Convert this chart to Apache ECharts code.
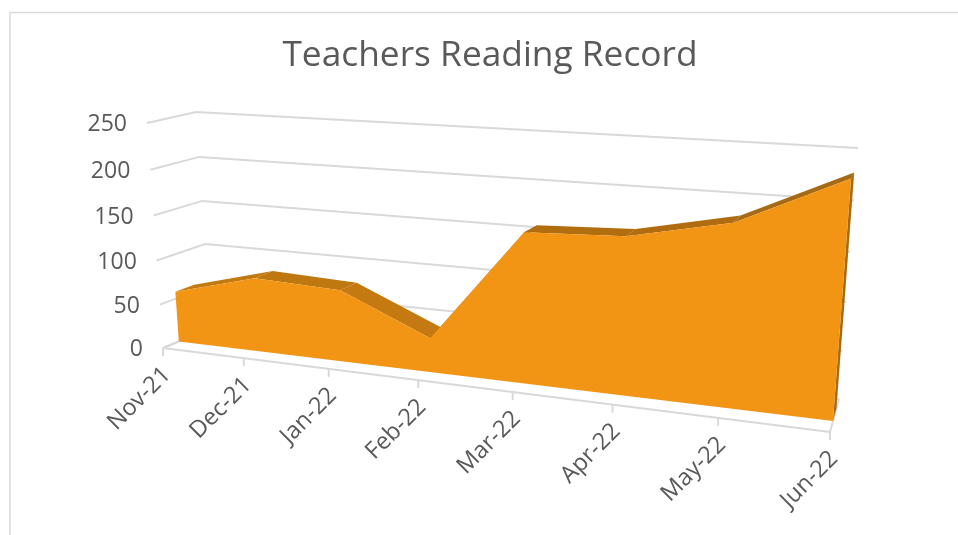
<!DOCTYPE html>
<html>
<head>
<meta charset="utf-8">
<script src="https://cdn.jsdelivr.net/npm/echarts@6/dist/echarts.min.js"></script>
<style>
    html, body { margin: 0; padding: 0; background: #fff; }
    #main { width: 958px; height: 535px; }
</style>
</head>
<body>
<div id="main"></div>
<script>
let categories = ['Nov-21', 'Dec-21', 'Jan-22', 'Feb-22', 'Mar-22', 'Apr-22', 'May-22', 'Jun-22'];
let readings = [58, 83, 79, 37, 158, 162, 183, 231];
let yTicks = [0, 50, 100, 150, 200, 250];
let bandColors = ['#c27a10', '#bf7810', '#c47a10', '#c47a10', '#b26e0e', '#b06c0e', '#a66a14'];

// box corners as seen in the picture: bottom-left, bottom-right, top-right, top-left
let frontQuad = [[163, 348], [830, 432], [850, 162], [147, 123]];
let backQuad = [[211, 328], [839, 399], [858, 148], [196, 112]];
let areaFront = 0.33, areaBack = 0.72;

function quadAt(z) {
    return frontQuad.map(function (p, k) {
        return [p[0] + (backQuad[k][0] - p[0]) * z, p[1] + (backQuad[k][1] - p[1]) * z];
    });
}

// unit square -> quad, used to get the perspective of the excel 3d chart
function warp(q, u, v) {
    let dx1 = q[1][0] - q[2][0], dx2 = q[3][0] - q[2][0], sx = q[0][0] - q[1][0] + q[2][0] - q[3][0];
    let dy1 = q[1][1] - q[2][1], dy2 = q[3][1] - q[2][1], sy = q[0][1] - q[1][1] + q[2][1] - q[3][1];
    let den = dx1 * dy2 - dx2 * dy1;
    let g = (sx * dy2 - dx2 * sy) / den, h = (dx1 * sy - sx * dy1) / den;
    let a = q[1][0] - q[0][0] + g * q[1][0], b = q[3][0] - q[0][0] + h * q[3][0];
    let d = q[1][1] - q[0][1] + g * q[1][1], e = q[3][1] - q[0][1] + h * q[3][1];
    let w = g * u + h * v + 1;
    return [(a * u + b * v + q[0][0]) / w, (d * u + e * v + q[0][1]) / w];
}

// value -> flat grid pixel (through the axes) -> perspective pixel
function project(api, params, i, value, z) {
    let p = api.coord([i, value]);
    let r = params.coordSys;
    return warp(quadAt(z), (p[0] - r.x) / r.width, (r.y + r.height - p[1]) / r.height);
}

let lineStyle = { stroke: '#d9d9d9', lineWidth: 2, fill: null };
let textColor = '#595959';
let last = categories.length - 1;

function line(points) {
    return { type: 'polyline', shape: { points: points }, style: lineStyle };
}

function renderWall(params, api) {
    let t = api.value(1);
    let label = project(api, params, 0, t, 0);
    return {
        type: 'group',
        children: [
            line([project(api, params, 0, t, 0), project(api, params, 0, t, 1), project(api, params, last, t, 1)]),
            {
                type: 'text',
                style: {
                    text: String(t), x: label[0] - 20, y: label[1] + 1.5, align: 'right', verticalAlign: 'middle',
                    fill: textColor, font: '23px "Open Sans"'
                }
            }
        ]
    };
}

function renderFloor(params, api) {
    let i = api.value(0);
    let p = project(api, params, i, 0, 0);
    let children = [
        line([p, [p[0], p[1] + 8]]),
        {
            type: 'text',
            x: p[0] + 4,
            y: p[1] + 23,
            rotation: Math.PI / 4,
            style: {
                text: categories[i], x: 0, y: 0, align: 'right', verticalAlign: 'middle',
                fill: textColor, font: '23.5px "Open Sans"'
            }
        }
    ];
    if (i === 0) {
        children.push(line([project(api, params, 0, 0, 0), project(api, params, 0, 0, 1)]));
        children.push(line([project(api, params, 0, 0, 0), project(api, params, last, 0, 0)]));
        children.push(line([project(api, params, last, 0, 0), project(api, params, last, 0, 1)]));
    }
    return { type: 'group', children: children };
}

function renderBand(params, api) {
    let i = api.value(0), v = api.value(1);
    if (i === last) {
        return {
            type: 'polygon',
            shape: { points: [
                project(api, params, i, v, areaFront), project(api, params, i, v, areaBack),
                project(api, params, i, 0, areaBack), project(api, params, i, 0, areaFront)
            ] },
            style: { fill: '#a66a14' }
        };
    }
    let next = readings[i + 1];
    return {
        type: 'polygon',
        shape: { points: [
            project(api, params, i, v, areaFront), project(api, params, i, v, areaBack),
            project(api, params, i + 1, next, areaBack), project(api, params, i + 1, next, areaFront)
        ] },
        style: { fill: bandColors[i] }
    };
}

function renderFront(params, api) {
    if (params.dataIndex !== 0) return;
    let pts = readings.map(function (v, i) { return project(api, params, i, v, areaFront); });
    pts.push(project(api, params, last, 0, areaFront));
    pts.push(project(api, params, 0, 0, areaFront));
    return { type: 'polygon', shape: { points: pts }, style: { fill: '#f29515' } };
}

let pairs = readings.map(function (v, i) { return [i, v]; });
let chart = echarts.init(document.getElementById('main'));
chart.setOption({
    animation: false,
    backgroundColor: '#fff',
    title: {
        text: 'Teachers Reading Record',
        left: 485, top: 33, textAlign: 'center',
        textStyle: { color: textColor, fontFamily: 'Open Sans', fontSize: 35.3, fontWeight: 'normal' }
    },
    graphic: [{
        type: 'polyline',
        shape: { points: [[10, 536], [10, 12.5], [958, 12.5]] },
        style: { stroke: '#d9d9d9', lineWidth: 1.5, fill: null }
    }],
    grid: { left: 100, right: 100, top: 100, bottom: 100 },
    xAxis: { type: 'category', data: categories, boundaryGap: false, show: false },
    yAxis: { type: 'value', min: 0, max: 250, interval: 50, show: false },
    series: [
        { type: 'custom', name: 'wall', z: 1, silent: true, renderItem: renderWall, data: yTicks.map(function (t) { return [0, t]; }) },
        { type: 'custom', name: 'floor', z: 2, silent: true, renderItem: renderFloor, data: categories.map(function (c, i) { return [i, 0]; }) },
        { type: 'custom', name: 'top', z: 3, silent: true, renderItem: renderBand, data: pairs },
        { type: 'custom', name: 'Readings', z: 4, silent: true, renderItem: renderFront, data: pairs }
    ]
});
</script>
</body>
</html>
